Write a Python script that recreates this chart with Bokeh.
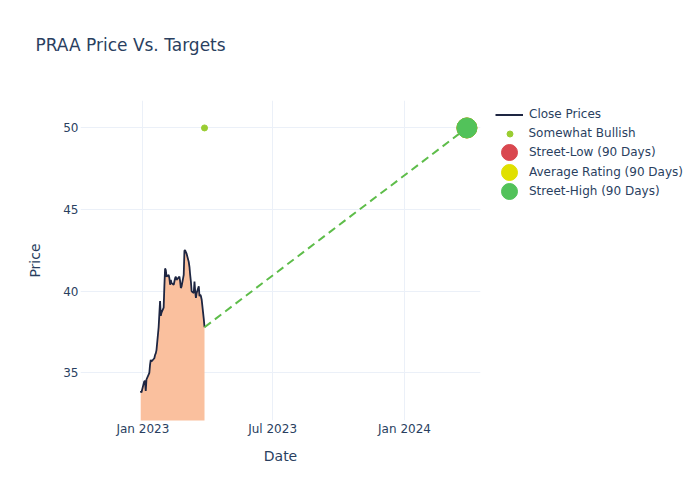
import pandas as pd
from bokeh.plotting import figure
from bokeh.layouts import row
from bokeh.models import ColumnDataSource, Range1d, FixedTicker, Legend, LegendItem, Title
from bokeh.embed import file_html
from bokeh.resources import INLINE

# ---------------- data ----------------
title_text = "PRAA Price Vs. Targets"
holidays = ["2023-01-02", "2023-01-16", "2023-02-20"]
close_dates = pd.bdate_range("2022-12-29", "2023-03-28", freq="C", holidays=holidays)
close_prices = [
    33.9, 33.8,
    34.5, 34.5, 33.9, 34.6, 34.9, 35.0, 35.5, 35.8, 35.7, 35.9, 36.1, 36.2, 36.4,
    37.8, 38.6, 39.4, 38.5, 38.7, 39.0, 40.3,
    41.4, 41.3, 40.9, 41.0, 40.8, 40.4, 40.7, 40.5, 40.4, 40.6, 40.8, 40.9, 40.7,
    40.9, 40.6, 40.2, 40.3, 41.0, 42.5,
    42.5, 42.4, 42.3, 41.8, 41.5, 41.0, 40.6, 40.0, 39.9, 40.6, 40.0, 39.6, 39.9,
    40.3, 39.7, 39.8, 39.7, 39.5, 38.3, 37.8,
]
assert len(close_prices) == len(close_dates)

rating_dates = pd.to_datetime(["2023-03-28"])
rating_values = [50]
rating_label = "Somewhat Bullish"

target_dates = pd.to_datetime(["2024-03-28"])
street_low = [50]
street_avg = [50]
street_high = [50]

x_tick_dates = pd.to_datetime(["2023-01-01", "2023-07-01", "2024-01-01"])
x_tick_labels = ["Jan 2023", "Jul 2023", "Jan 2024"]
y_ticks = [35, 40, 45, 50]

x_start, x_end = pd.Timestamp("2022-10-06"), pd.Timestamp("2024-04-16")
y_start, y_end = 32.09, 51.68

# ---------------- styles ----------------
FONT = "DejaVu Sans"
TXT = "#2a3f5f"
GRID = "#EBF0F8"
C_CLOSE = "#1E2642"
C_FILL = "#FAC09E"
C_DASH = "#5EBD4A"
C_RATING = "#9ACD32"
C_LOW = "#D9474F"
C_AVG = "#E0E000"
C_HIGH = "#52C25A"

TOTAL_W, TOTAL_H = 684, 484
MAIN_W = 488
FRAME_TOP, FRAME_BOTTOM = 100, 420

p = figure(width=MAIN_W, height=TOTAL_H, x_axis_type="datetime",
           x_range=Range1d(x_start, x_end), y_range=Range1d(y_start, y_end),
           output_backend="svg", toolbar_location=None,
           min_border_left=80, min_border_right=MAIN_W - 480,
           min_border_top=FRAME_TOP, min_border_bottom=TOTAL_H - FRAME_BOTTOM)
p.outline_line_color = None
p.background_fill_color = "white"
p.border_fill_color = "white"

# spacer between the frame and the title (keeps the title high above the frame)
p.add_layout(Title(text=" ", text_font_size="1px", standoff=43), "above")

p.title.text = title_text
p.title.text_font = FONT
p.title.text_font_size = "17px"
p.title.text_font_style = "normal"
p.title.text_color = TXT
p.title.align = "left"
p.title.offset = -45
p.title.standoff = 0

tick_ms = [t.value / 1e6 for t in x_tick_dates]
p.xaxis.ticker = FixedTicker(ticks=tick_ms)
p.xaxis.major_label_overrides = {ms: lab for ms, lab in zip(tick_ms, x_tick_labels)}
p.yaxis.ticker = FixedTicker(ticks=y_ticks)

for ax in (p.xaxis[0], p.yaxis[0]):
    ax.axis_line_color = None
    ax.major_tick_line_color = None
    ax.minor_tick_line_color = None
    ax.major_tick_out = 0
    ax.major_tick_in = 0
    ax.minor_tick_out = 0
    ax.major_label_text_font = FONT
    ax.major_label_text_font_size = "12px"
    ax.major_label_text_color = TXT
    ax.axis_label_text_font = FONT
    ax.axis_label_text_font_size = "14px"
    ax.axis_label_text_color = TXT
    ax.axis_label_text_font_style = "normal"
p.xaxis.axis_label = "Date"
p.yaxis.axis_label = "Price"
p.xaxis.major_label_standoff = 1
p.yaxis.major_label_standoff = 2
p.xaxis.axis_label_standoff = 9
p.yaxis.axis_label_standoff = 17

p.xgrid.grid_line_color = GRID
p.ygrid.grid_line_color = GRID

src = ColumnDataSource(dict(x=close_dates, y=close_prices, base=[0] * len(close_prices)))
p.varea(x="x", y1="base", y2="y", source=src, fill_color=C_FILL, fill_alpha=1.0)
p.line(x="x", y="y", source=src, line_color=C_CLOSE, line_width=1.8)

proj = ColumnDataSource(dict(x=[close_dates[-1], target_dates[0]],
                             y=[close_prices[-1], street_avg[0]]))
p.line(x="x", y="y", source=proj, line_color=C_DASH, line_width=2, line_dash="8 5")

p.scatter(x=rating_dates, y=rating_values, size=6, color=C_RATING)
p.scatter(x=target_dates, y=street_low, size=20, color=C_LOW)
p.scatter(x=target_dates, y=street_avg, size=20, color=C_AVG)
p.scatter(x=target_dates, y=street_high, size=20, color=C_HIGH)

# ---------------- legend panel (second figure, frame aligned with the main one) ----------------
LW = TOTAL_W - MAIN_W
lg = figure(width=LW, height=TOTAL_H, x_range=Range1d(0, LW),
            y_range=Range1d(0, FRAME_BOTTOM - FRAME_TOP),
            output_backend="svg", toolbar_location=None,
            min_border_left=0, min_border_right=0,
            min_border_top=FRAME_TOP, min_border_bottom=TOTAL_H - FRAME_BOTTOM)
lg.axis.visible = False
lg.grid.visible = False
lg.outline_line_color = None
lg.border_fill_color = "white"
lg.background_fill_color = "white"

# off-range proxies that only carry the legend styles
far = [-1000]
d_close = lg.line(x=far + far, y=far + far, line_color=C_CLOSE, line_width=2)
d_rating = lg.scatter(x=far, y=far, color=C_RATING)
d_low = lg.scatter(x=far, y=far, color=C_LOW)
d_avg = lg.scatter(x=far, y=far, color=C_AVG)
d_high = lg.scatter(x=far, y=far, color=C_HIGH)


def add_entry(label, rend, glyph_left, row_center, box, text_x):
    gw, gh = box
    top = row_center - gh / 2
    leg = Legend(items=[LegendItem(label=label, renderers=[rend])],
                 location=(glyph_left - MAIN_W, (FRAME_BOTTOM - top) - gh),
                 glyph_width=gw, glyph_height=gh, label_height=gh, label_width=10,
                 label_standoff=int(round(text_x - glyph_left - gw)),
                 spacing=0, padding=0, margin=0,
                 border_line_color=None, background_fill_alpha=0,
                 label_text_font=FONT, label_text_font_size="12px",
                 label_text_color=TXT)
    lg.add_layout(leg, "center")


TEXT_X = 529
add_entry("Close Prices", d_close, 495, 114, (28, 19), TEXT_X)
add_entry(rating_label, d_rating, 501.5, 133.3, (15, 15), TEXT_X)
add_entry("Street-Low (90 Days)", d_low, 489, 152.3, (40, 40), TEXT_X)
add_entry("Average Rating (90 Days)", d_avg, 489, 171.5, (40, 40), TEXT_X)
add_entry("Street-High (90 Days)", d_high, 489, 190.5, (40, 40), TEXT_X)

layout = row(p, lg, spacing=0)
open("out.html", "w").write(file_html(layout, INLINE))
